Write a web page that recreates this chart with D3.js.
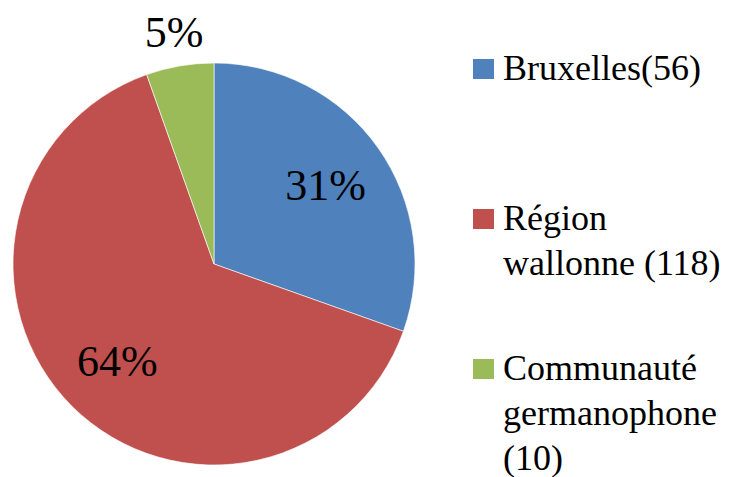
<!DOCTYPE html>
<html>
<head>
<meta charset="utf-8">
<script src="https://cdn.jsdelivr.net/npm/d3@7"></script>
</head>
<body style="margin:0; background:#fff">
<script>
// data
const categories = ["Bruxelles", "Région wallonne", "Communauté germanophone"];
const values = [56, 118, 10];
const pctLabels = ["31%", "64%", "5%"];
const legendLines = [
    ["Bruxelles(56)"],
    ["Région", "wallonne (118)"],
    ["Communauté", "germanophone", "(10)"]
];
const colors = ["#4F81BD", "#C0504D", "#9BBB59"];

const width = 742, height = 477;
const cx = 214, cy = 264, radius = 201;
const serifFont = "'Times New Roman', 'Liberation Serif', FreeSerif, Tinos, monospace";

const svg = d3.select("body").append("svg")
    .attr("width", width)
    .attr("height", height);

const g = svg.append("g")
    .attr("transform", "translate(" + cx + "," + cy + ")");

const pie = d3.pie().sort(null).value(d => d);
const arcs = pie(values);
const total = d3.sum(values);

const arc = d3.arc().innerRadius(0).outerRadius(radius);

g.selectAll("path")
    .data(arcs)
    .enter()
    .append("path")
    .attr("d", arc)
    .attr("fill", (d, i) => colors[i])
    .attr("stroke", "#fff")
    .attr("stroke-width", 0.6);

// percent labels, small slice label goes outside the pie
const innerLabel = d3.arc().innerRadius(radius * 0.68).outerRadius(radius * 0.68);
const outerLabel = d3.arc().innerRadius(radius * 1.17).outerRadius(radius * 1.17);

arcs.forEach(function (d, i) {
    const p = (d.value / total < 0.1 ? outerLabel : innerLabel).centroid(d);
    svg.append("text")
        .attr("x", cx + p[0])
        .attr("y", cy + p[1] + 15)
        .attr("text-anchor", "middle")
        .attr("font-size", 44)
        .attr("font-family", serifFont)
        .text(pctLabels[i]);
});

// legend
const legendX = 473;
const legendTops = [59, 209, 359];
const lineH = 45;

categories.forEach(function (c, i) {
    svg.append("rect")
        .attr("x", legendX)
        .attr("y", legendTops[i])
        .attr("width", 21)
        .attr("height", 20)
        .attr("fill", colors[i]);

    legendLines[i].forEach(function (line, j) {
        svg.append("text")
            .attr("x", legendX + 30)
            .attr("y", legendTops[i] + 21 + j * lineH)
            .attr("font-size", 36)
            .attr("font-family", serifFont)
            .text(line);
    });
});
</script>
</body>
</html>
